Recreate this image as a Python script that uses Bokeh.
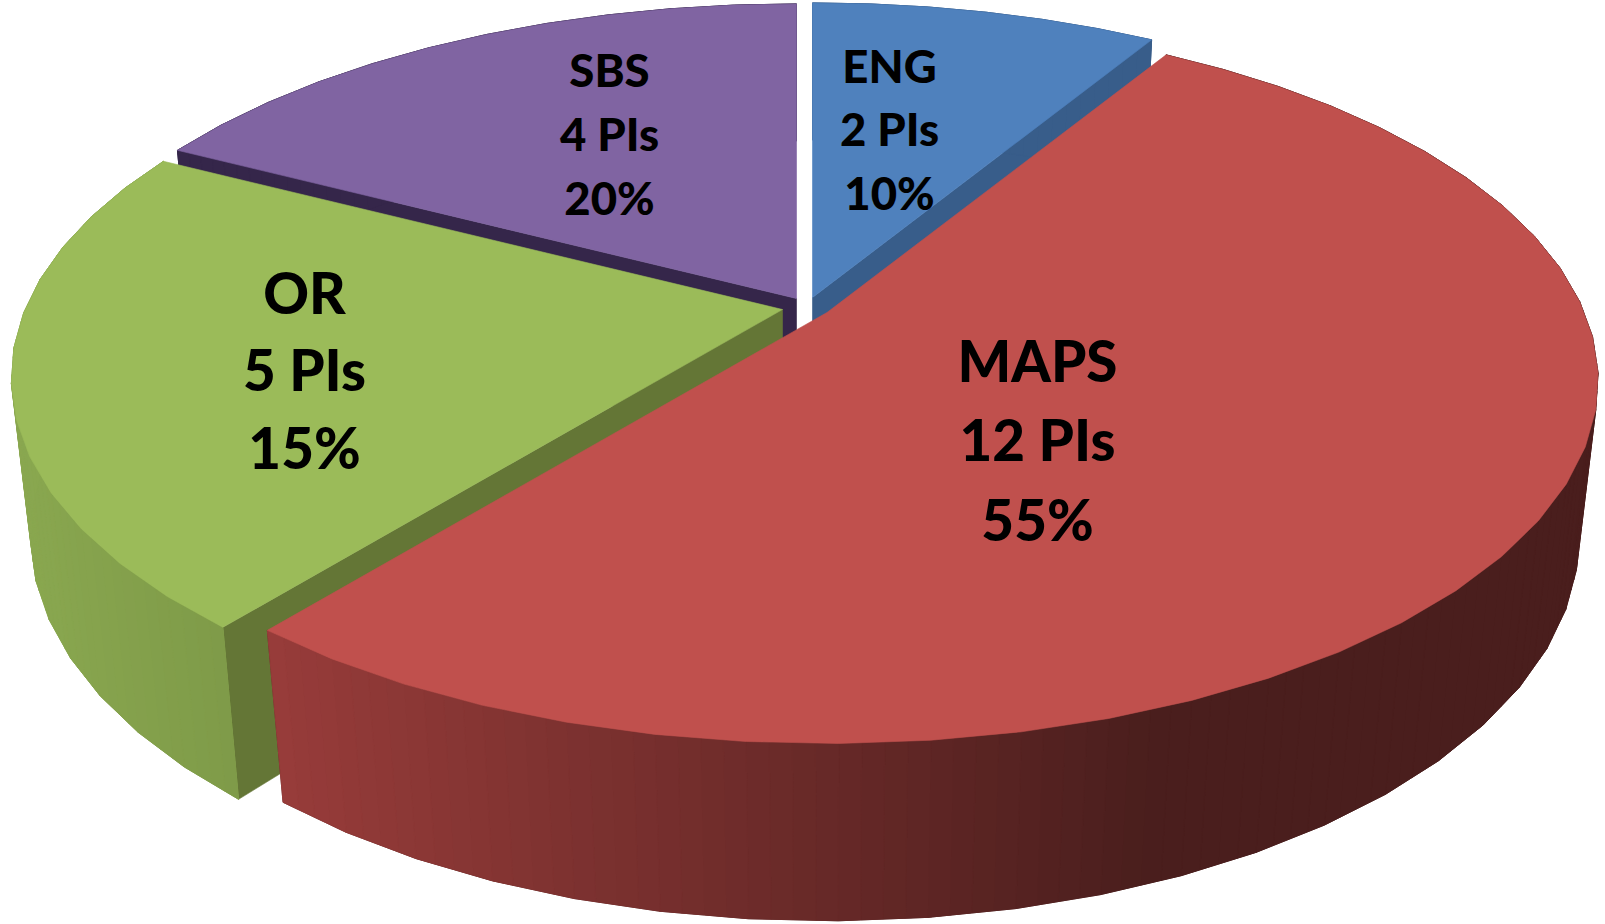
import numpy as np
from bokeh.plotting import figure
from bokeh.models import Range1d, ColumnDataSource
from bokeh.core.properties import value
from bokeh.embed import file_html
from bokeh.resources import INLINE

# ---- data ----
names = ["ENG", "MAPS", "OR", "SBS"]
pis = [2, 12, 5, 4]
percents = ["10%", "55%", "15%", "20%"]

# ---- style ----
top_colors = ["#4f81bd", "#c0504d", "#9bbb59", "#8064a2"]
wall_colors = ["#385d8a", "#8f3a38", "#647636", "#35264a"]
side_stops = {
    "MAPS": ([269, 1150, 1600], ["#983c3a", "#4a1e1d", "#4a1e1d"]),
    "OR": ([12, 239], ["#8aa850", "#7e9a48"]),
    "ENG": ([800, 1200], ["#385d8a", "#385d8a"]),
    "SBS": ([170, 800], ["#35264a", "#35264a"]),
}
# screen position of each slice's apex (page pixels)
apex = {"ENG": (812, 297), "MAPS": (826.5, 312), "OR": (782, 309), "SBS": (796, 298)}
label_xy = {"ENG": (889, [65, 128, 192], 45.5), "MAPS": (1037, [359, 438, 518], 56.5),
            "OR": (304, [291, 368, 446], 56.5), "SBS": (609, [69, 133, 197], 45.5)}
A, B, K = 757.5, 350.0, 0.188   # perspective of the top plane
M, N = 0.0247, 159.0            # perspective of the extrusion
FACET = 360 / 64
WALL_EDGE = {"ENG": 1, "OR": 0, "SBS": 0}   # which straight edge of the slice shows a wall


def project(theta, r, t, ax, ay):
    X, Y = r * np.sin(theta), r * np.cos(theta)
    w = 1 + K * Y + M * t
    return ax + A * X / w, ay + (-B * Y + N * t) / w


def hex2rgb(h):
    return np.array([int(h[i:i + 2], 16) for i in (1, 3, 5)], float)


def side_color(name, x):
    xs, cs = side_stops[name]
    rgb = [np.interp(x, xs, [hex2rgb(c)[i] for c in cs]) for i in range(3)]
    return "#%02x%02x%02x" % tuple(int(round(v)) for v in rgb)


p = figure(width=1605, height=924, x_range=Range1d(0, 1605), y_range=Range1d(924, 0),
           output_backend="svg", toolbar_location=None, min_border=0,
           x_axis_location=None, y_axis_location=None, background_fill_color="white")
p.grid.visible = False
p.outline_line_color = None

edges = np.concatenate([[0], np.cumsum(pis)]) / sum(pis) * 2 * np.pi
slices = {n: (edges[i], edges[i + 1], i) for i, n in enumerate(names)}


def patch(xs, ys, color, lw=0.6):
    p.patch(xs, ys, fill_color=color, line_color=color, line_width=lw)


for name in ["SBS", "ENG", "OR", "MAPS"]:
    a0, a1, i = slices[name]
    ax, ay = apex[name]
    n = max(2, int(round((a1 - a0) / np.radians(FACET))))
    th = np.linspace(a0, a1, n + 1)
    tx, ty = project(th, 1.0, 0.0, ax, ay)
    bx, by = project(th, 1.0, 1.0, ax, ay)
    # straight wall, painted first
    if name in WALL_EDGE:
        edge_angle = (a0, a1)[WALL_EDGE[name]]
        cx, cy = project(edge_angle, 1.0, 0.0, ax, ay)
        dx, dy = project(edge_angle, 1.0, 1.0, ax, ay)
        ox, oy = project(edge_angle, 0.0, 1.0, ax, ay)
        patch([ax, cx, dx, ox], [ay, cy, dy, oy], wall_colors[i])
    # outer rim: a base, then a left-to-right gradient over it
    patch(np.concatenate([tx, bx[::-1]]), np.concatenate([ty, by[::-1]]),
          side_color(name, float(np.mean(tx))))
    sub = 4
    for j in range(n):
        for s in range(sub):
            f0, f1 = s / sub, (s + 1) / sub
            qx = [tx[j] + (tx[j + 1] - tx[j]) * f0, tx[j] + (tx[j + 1] - tx[j]) * f1,
                  bx[j] + (bx[j + 1] - bx[j]) * f1, bx[j] + (bx[j + 1] - bx[j]) * f0]
            qy = [ty[j] + (ty[j + 1] - ty[j]) * f0, ty[j] + (ty[j + 1] - ty[j]) * f1,
                  by[j] + (by[j + 1] - by[j]) * f1, by[j] + (by[j + 1] - by[j]) * f0]
            patch(qx, qy, side_color(name, float(np.mean(qx))), lw=1.0)
    # top face
    patch(np.concatenate([[ax], tx]), np.concatenate([[ay], ty]), top_colors[i])

for i, name in enumerate(names):
    x, ys, size = label_xy[name]
    lines = [name, f"{pis[i]} PIs", percents[i]]
    src = ColumnDataSource(dict(x=[x] * 3, y=ys, t=lines))
    p.text("x", "y", text="t", source=src, text_align="center", text_baseline="middle",
           text_font=value("Lato Black"), text_font_style="normal", text_font_size=f"{size}px",
           text_color="black")

open("out.html", "w").write(file_html(p, INLINE))
